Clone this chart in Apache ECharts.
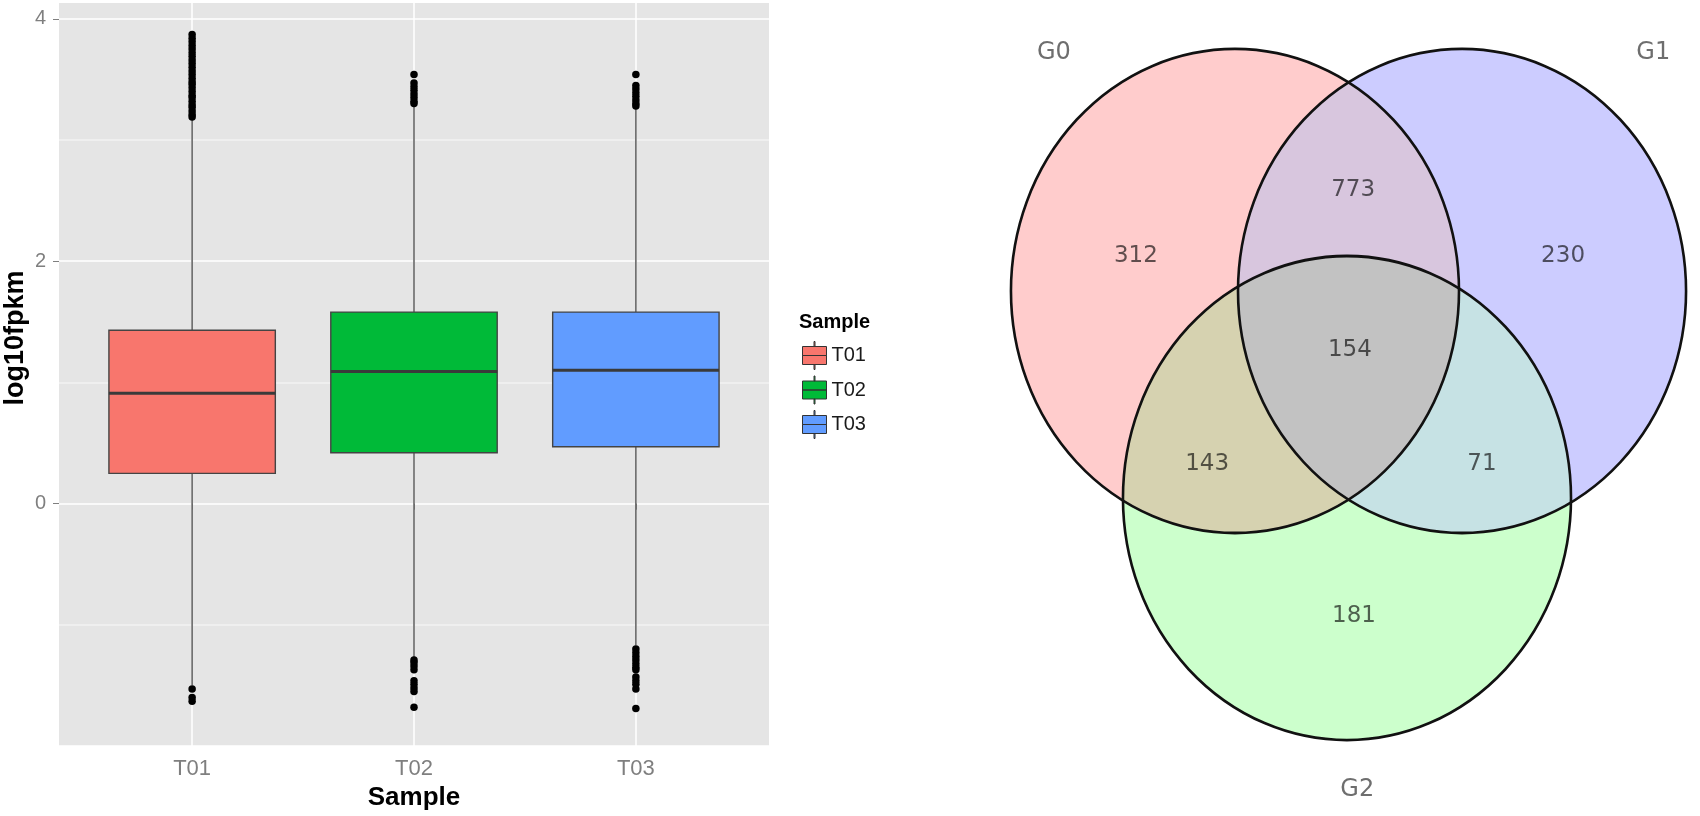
<!DOCTYPE html>
<html><head><meta charset="utf-8">
<script src="https://cdn.jsdelivr.net/npm/echarts@6/dist/echarts.min.js"></script>
<style>html,body{margin:0;padding:0;background:#fff}#c{width:1700px;height:816px}</style>
</head><body><div id="c"></div>
<script>
// ---- Boxplot data (log10fpkm) ----
const categories = ['T01', 'T02', 'T03'];
const boxLow    = [-1.50, -1.27, -1.17];
const boxQ1     = [0.25, 0.42, 0.47];
const boxMedian = [0.91, 1.09, 1.10];
const boxQ3     = [1.43, 1.58, 1.58];
const boxHigh   = [3.17, 3.28, 3.26];
const outliersT01 = [3.19,3.21,3.24,3.27,3.29,3.32,3.35,3.37,3.40,3.43,3.46,3.48,3.51,3.54,3.57,3.60,3.63,3.66,3.69,3.72,3.75,3.78,3.81,3.84,3.87,-1.53,-1.60,-1.63];
const outliersT02 = [3.30,3.32,3.35,3.38,3.41,3.44,3.47,3.54,-1.29,-1.31,-1.34,-1.37,-1.46,-1.49,-1.52,-1.55,-1.68];
const outliersT03 = [3.28,3.30,3.33,3.36,3.39,3.42,3.45,3.54,-1.20,-1.23,-1.26,-1.29,-1.32,-1.35,-1.37,-1.43,-1.46,-1.49,-1.53,-1.69];
const boxColors = ['#F8766D', '#00BA38', '#619CFF'];
const yTickValues = [0, 2, 4];

// ---- Venn data ----
const vennSets = ['G0', 'G1', 'G2'];
const vennCenterX = [0.4329, 0.7098, 0.5695];
const vennCenterY = [0.3566, 0.3566, 0.6103];
const vennRadiusX = [0.2732, 0.2732, 0.2732];
const vennRadiusY = [0.2966, 0.2966, 0.2966];
const vennSetLabelX = [0.212, 0.943, 0.582];
const vennSetLabelY = [0.065, 0.065, 0.968];
// regions: membership in [G0, G1, G2]
const vennRegions = [[1,0,0], [1,1,0], [0,1,0], [1,1,1], [1,0,1], [0,1,1], [0,0,1]];
const vennRegionCounts = [312, 773, 230, 154, 143, 71, 181];
const vennRegionColors = ['#ffcccc', '#d8c6de', '#ccccff', '#c2c2c2', '#d6d2b0', '#c6e2e4', '#ccffcc'];
const vennRegionX = [0.312, 0.577, 0.833, 0.573, 0.399, 0.734, 0.578];
const vennRegionY = [0.314, 0.233, 0.314, 0.429, 0.569, 0.569, 0.755];

const FONT = 'Liberation Sans, Arial, sans-serif';
const VFONT = 'DejaVu Sans, sans-serif';
const outliers = [outliersT01, outliersT02, outliersT03];

function renderBox(params, api) {
  const x = api.value(0);
  const half = 0.375;
  const low = api.value(1), q1 = api.value(2), med = api.value(3), q3 = api.value(4), high = api.value(5);
  const tl = api.coord([x - half, q3]);
  const br = api.coord([x + half, q1]);
  const pHigh = api.coord([x, high]), pLow = api.coord([x, low]);
  const pQ3 = api.coord([x, q3]), pQ1 = api.coord([x, q1]);
  const m1 = api.coord([x - half, med]), m2 = api.coord([x + half, med]);
  const color = api.visual('color');
  return { type: 'group', children: [
    { type: 'line', shape: { x1: pHigh[0], y1: pHigh[1], x2: pQ3[0], y2: pQ3[1] }, style: { stroke: '#666', lineWidth: 1.6 } },
    { type: 'line', shape: { x1: pQ1[0], y1: pQ1[1], x2: pLow[0], y2: pLow[1] }, style: { stroke: '#666', lineWidth: 1.6 } },
    { type: 'rect', shape: { x: tl[0], y: tl[1], width: br[0] - tl[0], height: br[1] - tl[1] }, style: { fill: color, stroke: '#444', lineWidth: 1.4 } },
    { type: 'line', shape: { x1: m1[0], y1: m1[1], x2: m2[0], y2: m2[1] }, style: { stroke: '#3a3a3a', lineWidth: 3 } }
  ]};
}

const boxSeries = categories.map((c, i) => ({
  type: 'custom', name: c, xAxisIndex: 0, yAxisIndex: 0,
  itemStyle: { color: boxColors[i] },
  renderItem: renderBox,
  encode: { x: 0, y: [1, 2, 3, 4, 5] },
  data: [[i + 1, boxLow[i], boxQ1[i], boxMedian[i], boxQ3[i], boxHigh[i]]],
  z: 2
}));

const outlierSeries = {
  type: 'scatter', xAxisIndex: 0, yAxisIndex: 0, symbolSize: 7.5,
  itemStyle: { color: '#000', opacity: 1 }, silent: true, z: 3,
  data: outliers.flatMap((arr, i) => arr.map(v => [i + 1, v]))
};

const vennShapeData = vennSets.map((s, i) => [vennCenterX[i], vennCenterY[i], vennRadiusX[i], vennRadiusY[i]]);

function ellipseRenderer(fill, stroke, lw) {
  return function (params, api) {
    const c = api.coord([api.value(0), api.value(1)]);
    const rx = api.size([api.value(2), 0])[0];
    const ry = api.size([0, api.value(3)])[1];
    return { type: 'circle', x: c[0], y: c[1], scaleX: 1, scaleY: ry / rx,
      shape: { cx: 0, cy: 0, r: rx },
      style: { fill: fill, stroke: stroke, lineWidth: lw, strokeNoScale: true } };
  };
}

// Each Venn region is painted on its own layer: first member shape, then
// 'source-in' with the other member shapes and 'destination-out' with the others.
const regionSeries = [];
vennRegions.forEach((m, k) => {
  const inc = [0, 1, 2].filter(i => m[i]);
  const exc = [0, 1, 2].filter(i => !m[i]);
  const ops = inc.map((i, j) => [i, j === 0 ? 'source-over' : 'source-in']).concat(exc.map(i => [i, 'destination-out']));
  ops.forEach(([ci, op], j) => {
    regionSeries.push({
      type: 'custom', xAxisIndex: 1, yAxisIndex: 2, zlevel: 1 + k, z: 1 + j, silent: true,
      blendMode: op, renderItem: ellipseRenderer(vennRegionColors[k], null, 0),
      data: [vennShapeData[ci]]
    });
  });
});

const keyPath = 'path://M11.5,0h1v5h-1z M0,5h24v9h-24z M0,14h24v9h-24z M11.5,23h1v5h-1z';

const option = {
  backgroundColor: '#fff',
  animation: false,
  title: [{ text: 'Sample', left: 794, top: 307, textStyle: { fontFamily: FONT, fontWeight: 'bold', fontSize: 20, color: '#000' } }],
  legend: {
    orient: 'vertical', left: 797, top: 336, itemWidth: 24, itemHeight: 28, itemGap: 5.5,
    textStyle: { fontFamily: FONT, fontSize: 20, color: '#1a1a1a' },
    data: categories.map((c, i) => ({ name: c, icon: keyPath, itemStyle: { color: boxColors[i], borderColor: '#333', borderWidth: 1 } })),
    selectedMode: false
  },
  grid: [
    { left: 59, top: 3, width: 710, height: 745, show: true, backgroundColor: '#e5e5e5', borderWidth: 0 },
    { left: 880, top: 0, width: 820, height: 816, show: false },
    { left: 59, top: 3, width: 710, height: 670, show: false }
  ],
  xAxis: [
    { type: 'value', gridIndex: 0, min: 0.4, max: 3.6,
      axisLine: { show: false },
      axisTick: { show: true, customValues: [1, 2, 3], length: 6, lineStyle: { color: '#7f7f7f', width: 1 } },
      axisLabel: { customValues: [1, 2, 3], formatter: v => categories[Math.round(v) - 1], color: '#7f7f7f', fontSize: 22, fontFamily: FONT, margin: 12 },
      splitLine: { show: true, lineStyle: { color: '#ffffff', width: 1.5 } },
      name: 'Sample', nameLocation: 'middle', nameGap: 33,
      nameTextStyle: { fontFamily: FONT, fontWeight: 'bold', fontSize: 26, color: '#000' } },
    { type: 'value', gridIndex: 1, min: 0, max: 1, show: false },
    { type: 'value', gridIndex: 2, min: 0, max: 1, show: false }
  ],
  yAxis: [
    { type: 'value', gridIndex: 0, min: -2, max: 4.13, interval: 1,
      axisLine: { show: false }, axisTick: { show: false }, axisLabel: { show: false },
      splitLine: { show: true, showMaxLine: false, lineStyle: { color: ['#ffffff', '#f2f2f2'], width: 1.5 } } },
    { type: 'value', gridIndex: 0, min: -2, max: 4.13, position: 'left',
      axisLine: { show: false },
      axisTick: { show: true, customValues: yTickValues, length: 6, lineStyle: { color: '#7f7f7f', width: 1 } },
      axisLabel: { customValues: yTickValues, color: '#7f7f7f', fontSize: 20, fontFamily: FONT, margin: 13 },
      splitLine: { show: false } },
    { type: 'value', gridIndex: 1, min: 0, max: 1, inverse: true, show: false },
    { type: 'value', gridIndex: 2, min: 0, max: 1, position: 'left',
      axisLine: { show: false }, axisTick: { show: false }, axisLabel: { show: false }, splitLine: { show: false },
      name: 'log10fpkm', nameLocation: 'middle', nameGap: 30,
      nameTextStyle: { fontFamily: FONT, fontWeight: 'bold', fontSize: 27, color: '#000' } }
  ],
  series: [
    ...boxSeries,
    outlierSeries,
    ...regionSeries,
    { type: 'custom', xAxisIndex: 1, yAxisIndex: 2, zlevel: 10, z: 1, renderItem: ellipseRenderer('none', '#111', 2.6), data: vennShapeData, silent: true },
    { type: 'scatter', xAxisIndex: 1, yAxisIndex: 2, zlevel: 10, z: 5, symbolSize: 0, silent: true,
      data: vennRegionCounts.map((v, i) => [vennRegionX[i], vennRegionY[i], v]),
      label: { show: true, position: 'inside', formatter: p => String(p.value[2]), fontFamily: VFONT, fontSize: 23, color: 'rgba(0,0,0,0.78)' } },
    { type: 'scatter', xAxisIndex: 1, yAxisIndex: 2, zlevel: 10, z: 5, symbolSize: 0, silent: true,
      data: vennSets.map((s, i) => [vennSetLabelX[i], vennSetLabelY[i], s]),
      label: { show: true, position: 'inside', formatter: p => p.value[2], fontFamily: VFONT, fontSize: 24, color: '#4a4a4a' } }
  ]
};

const chart = echarts.init(document.getElementById('c'), null, { renderer: 'canvas' });
chart.setOption(option);
</script>
</body></html>
